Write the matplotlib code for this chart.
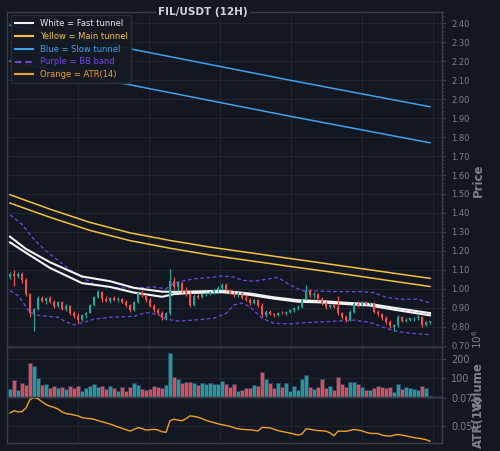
import matplotlib
matplotlib.use("Agg")
import matplotlib.pyplot as plt
from matplotlib.lines import Line2D
from matplotlib.ticker import MultipleLocator, FixedLocator, FormatStrFormatter
import numpy as np

# ---------------- data ----------------
opens = [1.060, 1.080, 1.065, 1.080, 1.045, 0.970, 0.870, 0.895, 0.950, 0.935,
         0.950, 0.930, 0.910, 0.930, 0.895, 0.910, 0.870, 0.855, 0.835, 0.860,
         0.875, 0.915, 0.955, 0.985, 0.945, 0.935, 0.950, 0.940, 0.948, 0.930,
         0.912, 0.890, 0.930, 0.980, 0.965, 0.940, 0.910, 0.890, 0.870, 0.845,
         0.870, 1.040, 1.010, 1.030, 0.990, 0.970, 0.915, 0.960, 0.955, 0.970,
         0.975, 0.985, 0.995, 1.005, 1.020, 0.995, 0.975, 0.965, 0.980, 0.950,
         0.940, 0.925, 0.940, 0.910, 0.860, 0.880, 0.865, 0.860, 0.875, 0.870,
         0.880, 0.890, 0.900, 0.905, 0.945, 0.990, 0.965, 0.975, 0.945, 0.925,
         0.905, 0.915, 0.905, 0.870, 0.850, 0.835, 0.880, 0.920, 0.915, 0.928,
         0.918, 0.925, 0.880, 0.865, 0.845, 0.825, 0.800, 0.808, 0.850, 0.830,
         0.838, 0.845, 0.848, 0.852, 0.810, 0.825]
highs = [1.090, 1.100, 1.090, 1.090, 1.055, 0.980, 0.900, 0.960, 0.960, 0.955,
         0.960, 0.940, 0.935, 0.935, 0.920, 0.915, 0.885, 0.870, 0.865, 0.880,
         0.920, 0.960, 0.995, 0.990, 0.960, 0.955, 0.960, 0.955, 0.952, 0.940,
         0.920, 0.935, 0.990, 0.995, 0.970, 0.950, 0.920, 0.900, 0.885, 0.880,
         1.105, 1.060, 1.040, 1.035, 1.010, 0.990, 0.970, 0.975, 0.975, 0.985,
         0.990, 1.000, 1.015, 1.030, 1.030, 1.000, 0.990, 0.985, 0.985, 0.965,
         0.950, 0.945, 0.945, 0.925, 0.890, 0.890, 0.875, 0.880, 0.885, 0.885,
         0.895, 0.905, 0.915, 0.950, 1.020, 1.000, 0.985, 0.980, 0.955, 0.935,
         0.920, 0.920, 0.960, 0.880, 0.860, 0.890, 0.930, 0.935, 0.935, 0.935,
         0.932, 0.930, 0.890, 0.875, 0.855, 0.835, 0.815, 0.860, 0.855, 0.845,
         0.848, 0.852, 0.860, 0.856, 0.830, 0.830]
lows = [1.050, 1.015, 1.055, 1.030, 0.960, 0.850, 0.775, 0.890, 0.930, 0.920,
        0.925, 0.900, 0.905, 0.890, 0.885, 0.860, 0.845, 0.820, 0.830, 0.845,
        0.870, 0.910, 0.950, 0.930, 0.930, 0.925, 0.935, 0.930, 0.925, 0.905,
        0.880, 0.885, 0.925, 0.955, 0.930, 0.905, 0.880, 0.860, 0.835, 0.835,
        0.860, 1.000, 0.990, 0.980, 0.960, 0.905, 0.910, 0.945, 0.950, 0.960,
        0.965, 0.975, 0.985, 0.995, 0.990, 0.970, 0.955, 0.955, 0.945, 0.935,
        0.915, 0.920, 0.905, 0.850, 0.850, 0.860, 0.850, 0.855, 0.865, 0.862,
        0.872, 0.880, 0.890, 0.900, 0.940, 0.955, 0.950, 0.935, 0.915, 0.895,
        0.900, 0.900, 0.860, 0.840, 0.825, 0.830, 0.875, 0.905, 0.910, 0.912,
        0.912, 0.870, 0.855, 0.835, 0.815, 0.795, 0.780, 0.800, 0.825, 0.825,
        0.828, 0.832, 0.838, 0.800, 0.805, 0.815]
closes = [1.080, 1.065, 1.080, 1.045, 0.970, 0.870, 0.895, 0.950, 0.935, 0.950,
          0.930, 0.910, 0.930, 0.895, 0.910, 0.870, 0.855, 0.835, 0.860, 0.875,
          0.915, 0.955, 0.985, 0.945, 0.935, 0.950, 0.940, 0.948, 0.930, 0.912,
          0.890, 0.930, 0.980, 0.965, 0.940, 0.910, 0.890, 0.870, 0.845, 0.870,
          1.040, 1.010, 1.030, 0.990, 0.970, 0.915, 0.960, 0.955, 0.970, 0.975,
          0.985, 0.995, 1.005, 1.020, 0.995, 0.975, 0.965, 0.980, 0.950, 0.940,
          0.925, 0.940, 0.910, 0.860, 0.880, 0.865, 0.860, 0.875, 0.870, 0.880,
          0.890, 0.900, 0.905, 0.945, 0.990, 0.965, 0.975, 0.945, 0.925, 0.905,
          0.915, 0.905, 0.870, 0.850, 0.835, 0.880, 0.920, 0.915, 0.928, 0.918,
          0.925, 0.880, 0.865, 0.845, 0.825, 0.805, 0.808, 0.850, 0.830, 0.838,
          0.845, 0.848, 0.852, 0.810, 0.825, 0.828]
volumes_m = [40, 87, 35, 74, 60, 177, 163, 101, 60, 70,
             45, 58, 48, 52, 40, 55, 45, 58, 30, 48,
             55, 70, 52, 58, 42, 55, 45, 30, 50, 28,
             50, 75, 62, 40, 38, 40, 56, 50, 45, 60,
             233, 106, 95, 75, 76, 78, 72, 62, 75, 65,
             72, 68, 70, 85, 70, 50, 65, 30, 38, 45,
             48, 60, 58, 130, 94, 74, 47, 74, 52, 74,
             29, 56, 34, 92, 118, 52, 42, 52, 94, 47,
             56, 36, 104, 65, 52, 80, 78, 70, 50, 38,
             35, 45, 58, 52, 45, 49, 24, 70, 42, 50,
             47, 43, 34, 56, 47, 5]
atr14 = [0.0616, 0.0635, 0.0625, 0.0628, 0.0660, 0.0735, 0.0752, 0.0740, 0.0715, 0.0690,
         0.0675, 0.0665, 0.0650, 0.0625, 0.0610, 0.0605, 0.0598, 0.0590, 0.0575, 0.0568,
         0.0566, 0.0560, 0.0548, 0.0538, 0.0528, 0.0518, 0.0505, 0.0492, 0.0480, 0.0468,
         0.0456, 0.0470, 0.0486, 0.0478, 0.0465, 0.0468, 0.0472, 0.0465, 0.0450, 0.0445,
         0.0548, 0.0560, 0.0553, 0.0547, 0.0565, 0.0590, 0.0585, 0.0578, 0.0565, 0.0550,
         0.0540, 0.0530, 0.0520, 0.0512, 0.0505, 0.0498, 0.0485, 0.0476, 0.0472, 0.0468,
         0.0468, 0.0462, 0.0457, 0.0488, 0.0486, 0.0484, 0.0472, 0.0460, 0.0452, 0.0445,
         0.0438, 0.0430, 0.0420, 0.0430, 0.0476, 0.0472, 0.0465, 0.0460, 0.0458, 0.0455,
         0.0440, 0.0415, 0.0455, 0.0455, 0.0453, 0.0462, 0.0470, 0.0464, 0.0458, 0.0445,
         0.0436, 0.0435, 0.0434, 0.0420, 0.0414, 0.0411, 0.0420, 0.0426, 0.0420, 0.0413,
         0.0405, 0.0398, 0.0393, 0.0388, 0.0380, 0.0366]

# tunnels (vertices along the candle index)
fast_x = [0, 4, 10, 18, 25, 31, 38, 41, 45, 53, 60, 66, 72, 78, 85, 90, 96, 105]
fast_upper = [1.275, 1.210, 1.140, 1.065, 1.040, 1.005, 0.985, 0.984, 0.985, 0.990,
              0.975, 0.955, 0.940, 0.935, 0.925, 0.920, 0.900, 0.872]
fast_lower = [1.245, 1.190, 1.110, 1.030, 1.010, 0.980, 0.958, 0.972, 0.978, 0.982,
              0.968, 0.948, 0.932, 0.928, 0.918, 0.912, 0.890, 0.860]
main_x = [0, 10, 20, 30, 40, 50, 60, 70, 80, 90, 105]
main_upper = [1.496, 1.420, 1.350, 1.295, 1.255, 1.220, 1.190, 1.160, 1.130, 1.100, 1.055]
main_lower = [1.452, 1.377, 1.308, 1.254, 1.214, 1.178, 1.148, 1.118, 1.089, 1.058, 1.012]
slow_x = [0, 35, 70, 105]
slow_upper = [2.390, 2.245, 2.100, 1.960]
slow_lower = [2.200, 2.055, 1.910, 1.770]
bb_up_x = [0, 3, 6, 9, 12, 15, 18, 21, 24, 28, 32, 36, 39, 41, 44, 47, 50, 53, 56, 58,
           61, 64, 67, 70, 73, 77, 82, 88, 91, 94, 98, 102, 105]
bb_upper = [1.390, 1.340, 1.260, 1.200, 1.150, 1.100, 1.060, 1.025, 1.010, 1.005,
            1.005, 1.010, 1.000, 1.030, 1.045, 1.055, 1.060, 1.068, 1.062, 1.045,
            1.040, 1.050, 1.060, 1.020, 0.990, 0.988, 0.985, 0.985, 0.980, 0.955,
            0.945, 0.945, 0.925]
bb_lo_x = [0, 2, 4, 5, 7, 12, 14, 16, 18, 21, 25, 31, 34, 37, 39, 42, 46, 51, 54, 56,
           58, 60, 63, 66, 70, 75, 80, 86, 90, 93, 96, 100, 105]
bb_lower = [0.990, 0.965, 0.905, 0.875, 0.860, 0.850, 0.825, 0.810, 0.820, 0.840,
            0.850, 0.855, 0.875, 0.865, 0.840, 0.830, 0.835, 0.845, 0.870, 0.915,
            0.925, 0.905, 0.845, 0.818, 0.815, 0.823, 0.828, 0.835, 0.823, 0.800,
            0.778, 0.766, 0.758]

price_ticks = [0.70, 0.80, 0.90, 1.00, 1.10, 1.20, 1.30, 1.40, 1.50, 1.60, 1.70,
               1.80, 1.90, 2.00, 2.10, 2.20, 2.30, 2.40]
volume_ticks = [100, 200]
atr_ticks = [0.050, 0.075]

# ---------------- style ----------------
BG = "#131722"
GRID = "#222633"
SPINE = "#3a3e4a"
TXT = "#7c808b"
UP = "#26a69a"
DN = "#ef5350"
WHITE = "#f2f2f2"
YEL = "#f3c23c"
BLUE = "#3fa2f0"
PURP = "#7048e0"
ORNG = "#f2a126"

x = np.arange(len(closes))
o = np.array(opens); c = np.array(closes)
cols = [UP if cc >= oo else DN for oo, cc in zip(o, c)]

fig = plt.figure(figsize=(5.0, 4.51), dpi=100, facecolor=BG)
L, W = 0.0146, 0.8694
ax1 = fig.add_axes([L, 0.2295, W, 0.7446])
ax2 = fig.add_axes([L, 0.1204, W, 0.1091], sharex=ax1)
ax3 = fig.add_axes([L, 0.0171, W, 0.1033], sharex=ax1)

gridx = [17, 34.75, 52.5, 70.25, 88, 105.75]
for ax in (ax1, ax2, ax3):
    ax.set_facecolor(BG)
    for s in ax.spines.values():
        s.set_color(SPINE)
        s.set_linewidth(1.0)
    ax.yaxis.tick_right()
    ax.tick_params(axis="y", colors=SPINE, labelcolor=TXT, length=3, width=0.8)
    ax.xaxis.set_major_locator(FixedLocator(gridx))
    ax.tick_params(axis="x", length=0, labelbottom=False)
    ax.grid(True, color=GRID, linewidth=0.7)
    ax.set_axisbelow(True)

ax1.set_xlim(-0.68, 108)

# main price panel
ax1.plot(slow_x, slow_upper, color=BLUE, lw=1.1)
ax1.plot(slow_x, slow_lower, color=BLUE, lw=1.1)
ax1.plot(main_x, main_upper, color=YEL, lw=1.1)
ax1.plot(main_x, main_lower, color=YEL, lw=1.1)
ax1.plot(bb_up_x, bb_upper, color=PURP, lw=0.9, ls=(0, (3, 2)))
ax1.plot(bb_lo_x, bb_lower, color=PURP, lw=0.9, ls=(0, (3, 2)))
ax1.plot(fast_x, fast_upper, color=WHITE, lw=1.5)
ax1.plot(fast_x, fast_lower, color=WHITE, lw=1.5)
ax1.vlines(x, lows, highs, colors=cols, lw=0.9, zorder=3)
ax1.bar(x, c - o, bottom=o, width=0.72, color=cols, linewidth=0, zorder=4)

ax1.set_ylim(0.6905, 2.4614)
ax1.yaxis.set_major_locator(FixedLocator(price_ticks))
ax1.yaxis.set_minor_locator(MultipleLocator(0.02))
ax1.yaxis.set_major_formatter(FormatStrFormatter("%.2f"))
ax1.tick_params(axis="y", which="minor", colors=SPINE, length=1.5, width=0.6)
ax1.tick_params(axis="y", labelsize=6)

handles = [Line2D([], [], color=WHITE, lw=1.5),
           Line2D([], [], color=YEL, lw=1.5),
           Line2D([], [], color=BLUE, lw=1.5),
           Line2D([], [], color=PURP, lw=1.5, ls=(0, (3, 2))),
           Line2D([], [], color=ORNG, lw=1.5)]
labels = ["White = Fast tunnel", "Yellow = Main tunnel", "Blue = Slow tunnel",
          "Purple = BB band", "Orange = ATR(14)"]
leg = ax1.legend(handles, labels, loc="upper left", fontsize=6, frameon=True,
                 facecolor="#161a25", edgecolor="#2a2e39", framealpha=0.95,
                 handlelength=2.2, labelspacing=0.45, borderpad=0.45,
                 borderaxespad=0.45, handletextpad=0.8)
for t, col in zip(leg.get_texts(), ["#e8e8e8", YEL, BLUE, PURP, ORNG]):
    t.set_color(col)

# volume panel
ax2.bar(x, volumes_m, width=0.82, color=cols, edgecolor="#2c3f6a", linewidth=0.5, alpha=0.92)
ax2.set_ylim(0, 262)
ax2.yaxis.set_major_locator(FixedLocator(volume_ticks))
ax2.tick_params(axis="y", labelsize=7)

# ATR panel
ax3.plot(x, atr14, color=ORNG, lw=1.0)
ax3.set_ylim(0.0348, 0.0759)
ax3.yaxis.set_major_locator(FixedLocator(atr_ticks))
ax3.yaxis.set_major_formatter(FormatStrFormatter("%.3f"))
ax3.tick_params(axis="y", labelsize=7)

# labels / title
fig.text(0.406, 0.9745, "FIL/USDT (12H)", color="#d1d4dc", fontsize=7.5,
         fontweight="bold", ha="center", va="center",
         bbox=dict(facecolor=BG, edgecolor="none", pad=1.5))
fig.text(0.956, 0.601, "Price", color=TXT, fontsize=8.5, fontweight="bold",
         rotation=90, ha="center", va="center")
fig.text(0.956, 0.142, "Volume", color=TXT, fontsize=8.5, fontweight="bold",
         rotation=90, ha="center", va="center")
fig.text(0.955, 0.248, "$10^6$", color=TXT, fontsize=7.5,
         rotation=90, ha="center", va="center")
fig.text(0.956, 0.064, "ATR(14)", color=TXT, fontsize=8.5, fontweight="bold",
         rotation=90, ha="center", va="center")

fig.savefig("out.png", dpi=100, facecolor=BG)
